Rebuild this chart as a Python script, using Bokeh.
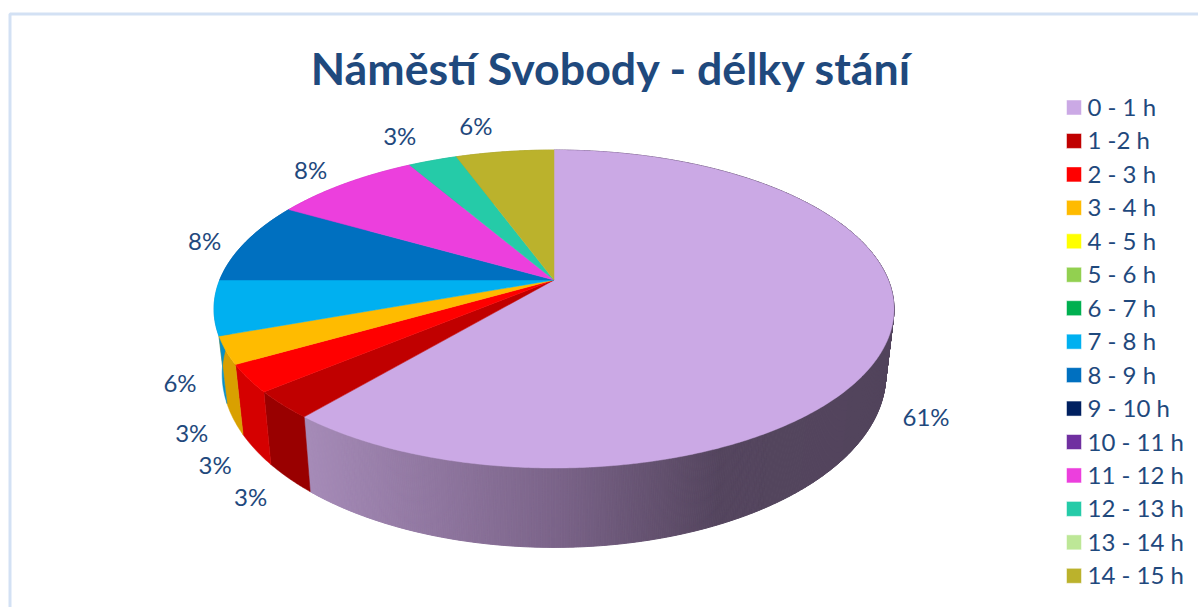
import numpy as np
from bokeh.core.properties import value
from bokeh.embed import file_html
from bokeh.models import Range1d
from bokeh.plotting import figure
from bokeh.resources import INLINE

title = "Náměstí Svobody - délky stání"
categories = ["0 - 1 h", "1 -2 h", "2 - 3 h", "3 - 4 h", "4 - 5 h", "5 - 6 h", "6 - 7 h", "7 - 8 h",
              "8 - 9 h", "9 - 10 h", "10 - 11 h", "11 - 12 h", "12 - 13 h", "13 - 14 h", "14 - 15 h"]
counts = [22, 1, 1, 1, 0, 0, 0, 2, 3, 0, 0, 3, 1, 0, 2]
colors = ["#CBA9E5", "#C00000", "#FF0000", "#FFBB00", "#FFFF00", "#92D050", "#00B050", "#00B0F0",
          "#0070C0", "#002060", "#7030A0", "#EC3FDD", "#25CBA8", "#BDE797", "#BBB22C"]
wall_colors = ["#A48BB8", "#990000", "#D50000", "#D9A000", "#D9D900", "#7CB040", "#009040", "#0A8FC4",
               "#005CA0", "#001A50", "#5C2885", "#C030B5", "#1EA88A", "#9CC07C", "#999222"]

INK = "#1F497D"

# Perspective projection of the pie disc onto the page
CX, CY = 553.5, 279.5
RX, RY = 334.3, 153.7
TILT = 0.1824
# The bottom rim is a linear transform of the top rim
BOTTOM_X_SCALE = 0.976
BOTTOM_Y_SCALE = 1.09
BOTTOM_Y = 342.0

# Wall shading of the largest slice, left to right
SHADE_STOPS_X = [300, 560, 720, 890]
SHADE_STOPS_RGB = [(166, 139, 184), (122, 99, 136), (84, 69, 94), (82, 68, 92)]

# Label offsets from the outer midpoint of each non-empty slice
LABEL_OFFSETS = {0: (37, 81), 1: (-32, 93), 2: (-33, 87), 3: (-34, 83), 7: (-34, 76),
                 8: (-41, -1), 11: (-34, -13), 12: (-33, -24), 14: (-29, -25)}


def top_rim(theta):
    u, v = np.sin(theta), -np.cos(theta)
    d = 1 - TILT * v
    return CX + RX * u / d, CY + RY * v / d


def bottom_rim(theta):
    x, y = top_rim(theta)
    return CX + (x - CX) * BOTTOM_X_SCALE, BOTTOM_Y + (y - CY) * BOTTOM_Y_SCALE


def shade(x):
    channels = [np.interp(x, SHADE_STOPS_X, [c[i] for c in SHADE_STOPS_RGB]) for i in range(3)]
    return "#%02x%02x%02x" % tuple(int(round(c)) for c in channels)


p = figure(width=1198, height=607, output_backend="svg", toolbar_location=None,
           x_range=Range1d(0, 1198), y_range=Range1d(607, 0), min_border=0)
p.axis.visible = False
p.grid.visible = False
p.outline_line_color = None
p.background_fill_color = "#FFFFFF"
p.border_fill_color = "#FFFFFF"

# Frame of the chart area
p.line([9.5, 9.5, 1198], [607, 13.5, 13.5], line_color="#D3E1F4", line_width=3)

total = sum(counts)
edges = np.cumsum([0] + counts) / total * 2 * np.pi

# Side walls
for i, count in enumerate(counts):
    if count == 0:
        continue
    a0, a1 = edges[i], edges[i + 1]
    thetas = np.linspace(a0, a1, max(int((a1 - a0) * 180), 4))
    if i == 0:
        # The big slice is shaded across its width, one thin band per step
        for t0, t1 in zip(thetas[:-1], thetas[1:]):
            x0, y0 = top_rim(t0)
            x1, y1 = top_rim(t1)
            x2, y2 = bottom_rim(t1)
            x3, y3 = bottom_rim(t0)
            c = shade((x0 + x1) / 2)
            p.patch([x0, x1, x2, x3], [y0, y1, y2, y3], fill_color=c, line_color=c, line_width=1)
    else:
        tx, ty = top_rim(thetas)
        bx, by = bottom_rim(thetas)
        p.patch(np.concatenate([tx, bx[::-1]]), np.concatenate([ty, by[::-1]]),
                fill_color=wall_colors[i], line_color=wall_colors[i], line_width=0.5)

# Top face
for i, count in enumerate(counts):
    if count == 0:
        continue
    a0, a1 = edges[i], edges[i + 1]
    thetas = np.linspace(a0, a1, max(int((a1 - a0) * 120), 3))
    rx, ry = top_rim(thetas)
    p.patch(np.concatenate([[CX], rx]), np.concatenate([[CY], ry]),
            fill_color=colors[i], line_color=colors[i], line_width=0.5)

# Percentage labels
for i, count in enumerate(counts):
    if count == 0:
        continue
    mx, my = top_rim((edges[i] + edges[i + 1]) / 2)
    dx, dy = LABEL_OFFSETS[i]
    p.text([mx + dx], [my + dy - 1], text=[f"{round(100 * count / total)}%"], text_color=INK,
           text_font=value("Lato"), text_font_size="24px", text_align="center", text_baseline="middle")

# Title
p.text([611], [67.5], text=[title], text_color=INK, text_font=value("Lato"), text_font_style="bold",
       text_font_size="44.7px", text_align="center", text_baseline="middle")

# Legend
for i, (label, c) in enumerate(zip(categories, colors)):
    y = 107 + i * 33.45
    p.rect([1073.5], [y], width=15, height=15, fill_color=c, line_color="#FFFFFF", line_alpha=0.5, line_width=1)
    p.text([1087], [y - 1], text=[label], text_color=INK, text_font=value("Lato"),
           text_font_size="24px", text_align="left", text_baseline="middle")

open("out.html", "w").write(file_html(p, INLINE))
